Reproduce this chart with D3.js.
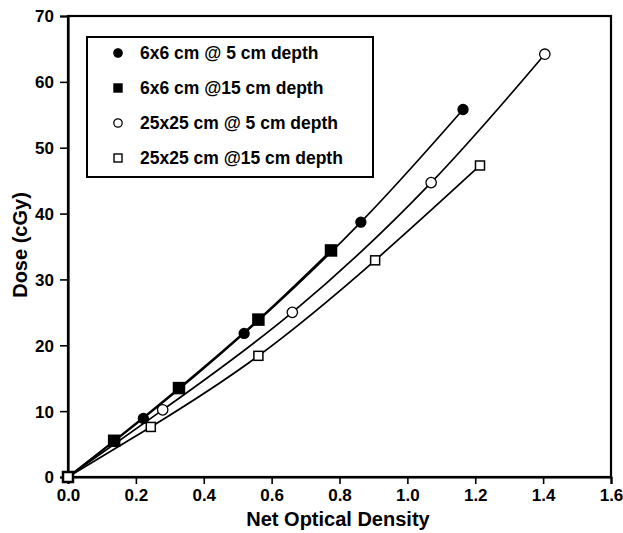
<!DOCTYPE html>
<html>
<head>
<meta charset="UTF-8" />
<script src="https://d3js.org/d3.v7.min.js"></script>
<style>
  body { margin: 0; background: #fff; }
  text { font-family: "Liberation Sans", Arial, sans-serif; font-weight: bold; fill: #000; }
</style>
</head>
<body>
<script>
// series: [net optical density, dose cGy]
const s6x6_5 = [[0, 0], [0.222, 8.9], [0.519, 21.8], [0.863, 38.7], [1.164, 55.8]];
const s6x6_15 = [[0, 0], [0.136, 5.5], [0.327, 13.5], [0.561, 23.9], [0.775, 34.4]];
const s25_5 = [[0, 0], [0.279, 10.2], [0.661, 25.0], [1.070, 44.7], [1.405, 64.2]];
const s25_15 = [[0, 0], [0.244, 7.6], [0.561, 18.4], [0.905, 32.9], [1.214, 47.3]];
const legendLabels = ["6x6 cm @ 5 cm depth", "6x6 cm @15 cm depth", "25x25 cm @ 5 cm depth", "25x25 cm @15 cm depth"];
const xTicks = [0, 0.2, 0.4, 0.6, 0.8, 1.0, 1.2, 1.4, 1.6];
const yTicks = [0, 10, 20, 30, 40, 50, 60, 70];

const W = 623, H = 533;
const svg = d3.select("body").append("svg").attr("width", W).attr("height", H);

const x = d3.scaleLinear().domain([0, 1.6]).range([68, 611]);
const y = d3.scaleLinear().domain([0, 70]).range([477, 16]);

const series = [
  {data: s6x6_5, shape: "circle", fill: "#000"},
  {data: s6x6_15, shape: "square", fill: "#000"},
  {data: s25_5, shape: "circle", fill: "#fff"},
  {data: s25_15, shape: "square", fill: "#fff"}
];

// frame
svg.append("rect").attr("x", 68).attr("y", 16).attr("width", 611 - 68).attr("height", 477 - 16)
  .attr("fill", "none").attr("stroke", "#000").attr("stroke-width", 2.2);

const gX = svg.append("g").attr("transform", "translate(0,477)");
gX.call(d3.axisBottom(x).tickValues(xTicks).tickFormat(d3.format(".1f")).tickSize(7).tickPadding(5));
const gY = svg.append("g").attr("transform", "translate(68,0)");
gY.call(d3.axisLeft(y).tickValues(yTicks).tickSize(8).tickPadding(6));
[gX, gY].forEach(g => {
  g.select(".domain").attr("stroke-width", 2.2);
  g.selectAll(".tick line").attr("stroke-width", 1.6);
  g.selectAll("text").style("font-size", "17px").style("font-weight", "bold")
    .attr("font-family", null);
});
gY.selectAll(".tick text").attr("dy", "0.35em");

svg.append("text").attr("x", 338).attr("y", 526).attr("text-anchor", "middle")
  .style("font-size", "20px").text("Net Optical Density");
svg.append("text").attr("transform", "translate(27,245) rotate(-90)").attr("text-anchor", "middle")
  .style("font-size", "20px").text("Dose (cGy)");

// fitted curves
const line = d3.line().x(d => x(d[0])).y(d => y(d[1])).curve(d3.curveNatural);
series.forEach(s => {
  svg.append("path").attr("d", line(s.data)).attr("fill", "none")
    .attr("stroke", "#000").attr("stroke-width", 1.7);
});

function marker(g, shape, fill, cx, cy) {
  if (shape === "circle") {
    g.append("circle").attr("cx", cx).attr("cy", cy).attr("r", fill === "#000" ? 5 : 5.2)
      .attr("fill", fill).attr("stroke", "#000").attr("stroke-width", 1.3);
  } else {
    const h = fill === "#000" ? 5.5 : 4.5;
    g.append("rect").attr("x", cx - h).attr("y", cy - h).attr("width", 2 * h).attr("height", 2 * h)
      .attr("fill", fill).attr("stroke", "#000").attr("stroke-width", 1.5);
  }
}

series.forEach(s => {
  const g = svg.append("g");
  s.data.forEach(d => marker(g, s.shape, s.fill, x(d[0]), y(d[1])));
});

// legend
const lg = svg.append("g");
lg.append("rect").attr("x", 87).attr("y", 37).attr("width", 286).attr("height", 140)
  .attr("fill", "#fff").attr("stroke", "#000").attr("stroke-width", 2);
legendLabels.forEach((t, i) => {
  const cy = 53 + i * 35;
  const s = series[i];
  const mg = lg.append("g");
  if (s.shape === "circle") {
    mg.append("circle").attr("cx", 118).attr("cy", cy).attr("r", 4.2)
      .attr("fill", s.fill).attr("stroke", "#000").attr("stroke-width", 1.3);
  } else {
    mg.append("rect").attr("x", 114).attr("y", cy - 4).attr("width", 8).attr("height", 8)
      .attr("fill", s.fill).attr("stroke", "#000").attr("stroke-width", 1.4);
  }
  lg.append("text").attr("x", 140).attr("y", cy).attr("dy", "0.35em")
    .style("font-size", "17.5px").text(t);
});
</script>
</body>
</html>
